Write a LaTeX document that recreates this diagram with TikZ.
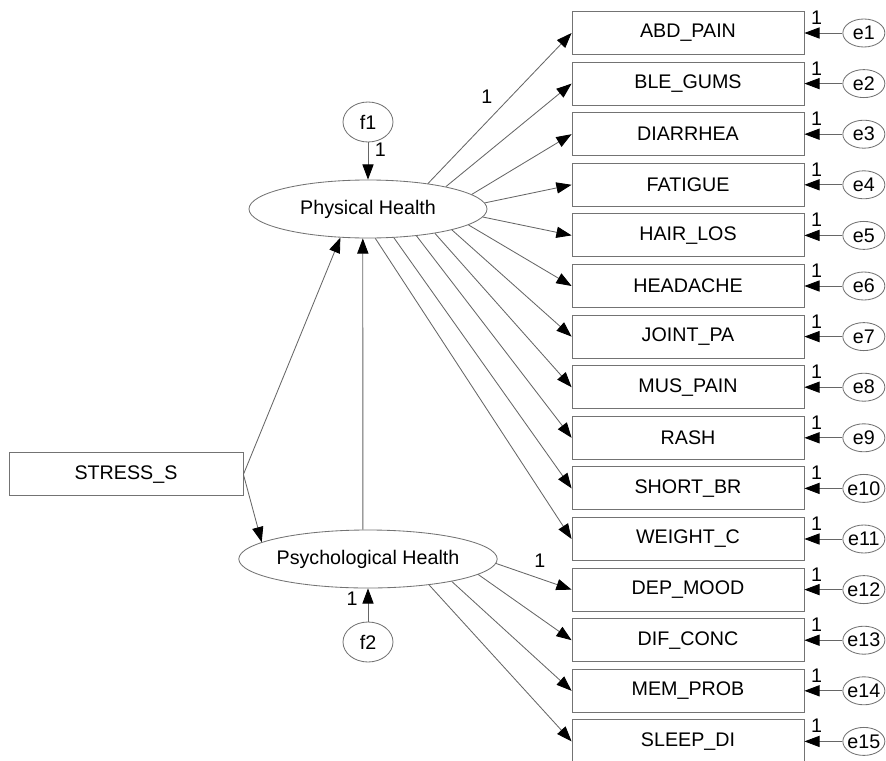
\documentclass[tikz,border=0pt]{standalone}
\usepackage{fontspec}
\setmainfont{Liberation Sans}
\usetikzlibrary{shapes.geometric, arrows.meta, positioning}

\begin{document}
\begin{tikzpicture}[
        font=\fontsize{14}{16}\selectfont,
        observed/.style={rectangle, draw=black!55, line width=0.6pt, minimum width=5.8cm, minimum height=1.075cm, inner sep=0pt, align=center},
        latent/.style={ellipse, draw=black!55, line width=0.6pt, minimum width=5.95cm, minimum height=1.45cm, inner sep=0pt},
        disturb/.style={ellipse, draw=black!55, line width=0.6pt, minimum width=1.25cm, minimum height=1.0cm, inner sep=0pt},
        residual/.style={ellipse, draw=black!55, line width=0.6pt, minimum width=1.05cm, minimum height=0.7cm, inner xsep=-4pt, inner ysep=0pt},
        link/.style={-{Triangle[length=0.38cm, width=0.28cm, color=black]}, line width=0.6pt, draw=black!60},
        fixlabel/.style={inner sep=0pt}
    ]
        \useasboundingbox (0,0) rectangle (22.15,-19);

        % Exogenous variable and latent factors
        \node[observed, minimum width=5.85cm] (stress) at (3.15, -11.86) {STRESS\_S};
        \node[latent] (phys) at (9.2, -5.225) {Physical Health};
        \node[latent, minimum width=6.1cm] (psych) at (9.2, -13.975) {Psychological Health};
        \node[disturb] (f1) at (9.2, -3.05) {f1};
        \node[disturb] (f2) at (9.2, -16.05) {f2};

        % Indicators: physical health
        \node[observed] (abd) at (17.2, -0.825) {ABD\_PAIN};
        \node[observed] (ble) at (17.2, -2.09) {BLE\_GUMS};
        \node[observed] (dia) at (17.2, -3.355) {DIARRHEA};
        \node[observed] (fat) at (17.2, -4.62) {FATIGUE};
        \node[observed] (hair) at (17.2, -5.885) {HAIR\_LOS};
        \node[observed] (head) at (17.2, -7.15) {HEADACHE};
        \node[observed] (joint) at (17.2, -8.415) {JOINT\_PA};
        \node[observed] (mus) at (17.2, -9.68) {MUS\_PAIN};
        \node[observed] (rash) at (17.2, -10.945) {RASH};
        \node[observed] (short) at (17.2, -12.21) {SHORT\_BR};
        \node[observed] (weight) at (17.2, -13.475) {WEIGHT\_C};

        % Indicators: psychological health
        \node[observed] (dep) at (17.2, -14.74) {DEP\_MOOD};
        \node[observed] (dif) at (17.2, -16.005) {DIF\_CONC};
        \node[observed] (mem) at (17.2, -17.27) {MEM\_PROB};
        \node[observed] (sleep) at (17.2, -18.535) {SLEEP\_DI};

        % Structural paths
        \draw[link] (stress.east) -- (phys.226);
        \draw[link] (stress.east) -- (psych.171);
        \draw[link] (psych.100) -- (phys.260);
        \draw[link] (f1) -- (phys) node[pos=0.21, right=0.16cm, fixlabel] {1};
        \draw[link] (f2) -- (psych) node[pos=0.7, left=0.25cm, fixlabel] {1};

        % Loadings: physical health
        \draw[link] (phys.23) -- (abd.west) node[pos=0.41, above=0.45cm, fixlabel] {1};
        \draw[link] (phys.16) -- (ble.west);
        \draw[link] (phys.8) -- (dia.west);
        \draw[link] (phys.3) -- (fat.west);
        \draw[link] (phys.356) -- (hair.west);
        \draw[link] (phys.351) -- (head.west);
        \draw[link] (phys.346) -- (joint.west);
        \draw[link] (phys.340) -- (mus.west);
        \draw[link] (phys.331) -- (rash.west);
        \draw[link] (phys.312) -- (short.west);
        \draw[link] (phys.284) -- (weight.west);

        % Loadings: psychological health
        \draw[link] (psych.358) -- (dep.west) node[pos=0.58, above=0.26cm, fixlabel] {1};
        \draw[link] (psych.352) -- (dif.west);
        \draw[link] (psych.345) -- (mem.west);
        \draw[link] (psych.337) -- (sleep.west);

        % Error terms
        \foreach \v/\i in {abd/1, ble/2, dia/3, fat/4, hair/5, head/6, joint/7, mus/8, rash/9, short/10, weight/11, dep/12, dif/13, mem/14, sleep/15} {
            \node[residual, right=0.95cm of \v] (e\i) {e\i};
            \draw[link] (e\i) -- (\v.east) node[pos=0.68, above=0.2cm, fixlabel] {1};
        }
    \end{tikzpicture}
\end{document}
